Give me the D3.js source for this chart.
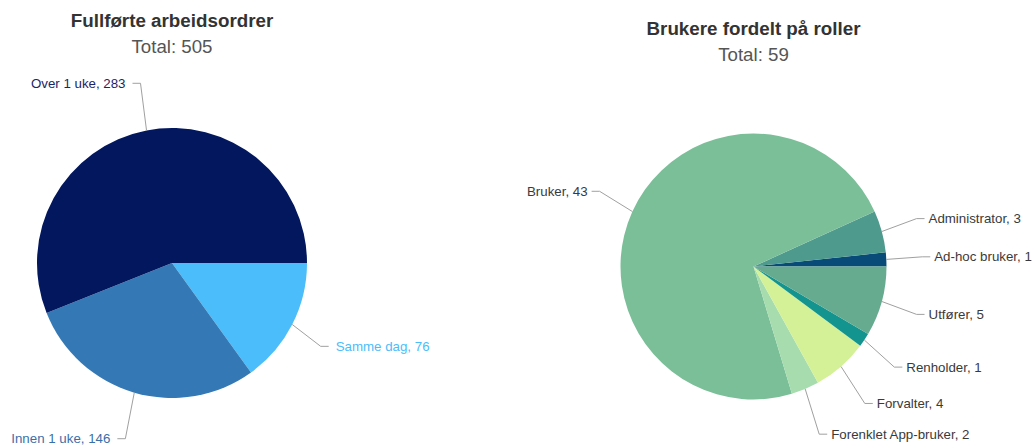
<!DOCTYPE html>
<html>
<head>
<meta charset="utf-8">
<script src="https://cdn.jsdelivr.net/npm/d3@7"></script>
<style>
  html, body { margin: 0; padding: 0; background: #fff; }
  svg { display: block; font-family: "Liberation Sans", Arial, sans-serif; }
</style>
</head>
<body>
<svg id="chart" width="1034" height="447"></svg>
<script>
// ---- Data ----
const leftTitle = "Fullførte arbeidsordrer";
const leftCategories = ["Samme dag", "Innen 1 uke", "Over 1 uke"];
const leftValues = [76, 146, 283];
const leftColors = ["#4bbdfb", "#3479b5", "#02175e"];
const leftLabelColors = ["#4bbdfb", "#3a6fa8", "#1c2566"];

const rightTitle = "Brukere fordelt på roller";
const rightCategories = ["Ad-hoc bruker", "Administrator", "Bruker", "Forenklet App-bruker", "Forvalter", "Renholder", "Utfører"];
const rightValues = [1, 3, 43, 2, 4, 1, 5];
const rightColors = ["#084b78", "#4e9a8c", "#7bbf99", "#a7dcae", "#d4f197", "#13948f", "#66ab8f"];

const svg = d3.select("#chart");

function drawPie(cfg) {
  const g = svg.append("g");
  const total = d3.sum(cfg.values);
  g.append("text")
    .attr("x", cfg.cx).attr("y", cfg.titleY)
    .attr("text-anchor", "middle")
    .attr("font-size", 18.8).attr("font-weight", "bold")
    .attr("fill", "#333")
    .text(cfg.title);
  g.append("text")
    .attr("x", cfg.cx).attr("y", cfg.titleY + 26)
    .attr("text-anchor", "middle")
    .attr("font-size", 18.7)
    .attr("fill", "#555")
    .text("Total: " + total);

  const data = cfg.categories.map((c, i) => ({ name: c, value: cfg.values[i], color: cfg.colors[i], labelColor: cfg.labelColors ? cfg.labelColors[i] : "#333" }));
  const pie = d3.pie().value(d => d.value).sort(null)
    .startAngle(cfg.startAngle).endAngle(cfg.endAngle);
  const arcs = pie(data);
  const arc = d3.arc().innerRadius(0).outerRadius(cfg.r);
  const pg = g.append("g").attr("transform", `translate(${cfg.cx},${cfg.cy})`);
  pg.selectAll("path.slice").data(arcs).join("path")
    .attr("class", "slice")
    .attr("d", arc)
    .attr("fill", d => d.data.color);

  arcs.forEach(d => {
    const a = (d.startAngle + d.endAngle) / 2;
    const ex = Math.sin(a) * cfg.r, ey = -Math.cos(a) * cfg.r;
    const bx = Math.sin(a) * cfg.labelRx, by = -Math.cos(a) * cfg.labelRy;
    const side = Math.sin(a) >= 0 ? 1 : -1;
    const hx = bx + side * 8;
    pg.append("path")
      .attr("d", `M${ex},${ey}L${bx},${by}L${hx},${by}`)
      .attr("fill", "none")
      .attr("stroke", "#a0a0a0")
      .attr("stroke-width", 1);
    pg.append("text")
      .attr("x", hx + side * cfg.gap).attr("y", by)
      .attr("dy", "0.35em")
      .attr("text-anchor", side > 0 ? "start" : "end")
      .attr("font-size", 13.3)
      .attr("fill", d.data.labelColor)
      .text(d.data.name + ", " + d.data.value);
  });
}

drawPie({
  title: leftTitle, categories: leftCategories, values: leftValues, colors: leftColors, labelColors: leftLabelColors,
  cx: 172, cy: 263, r: 135, labelRx: 167, labelRy: 183, titleY: 27, gap: 7,
  startAngle: Math.PI / 2, endAngle: Math.PI / 2 + 2 * Math.PI
});
drawPie({
  title: rightTitle, categories: rightCategories, values: rightValues, colors: rightColors,
  labelColors: rightCategories.map(() => "#3a3a3a"),
  cx: 753.5, cy: 266.5, r: 133, labelRx: 169, labelRy: 182, titleY: 35, gap: 4,
  startAngle: Math.PI / 2, endAngle: Math.PI / 2 - 2 * Math.PI
});
</script>
</body>
</html>
